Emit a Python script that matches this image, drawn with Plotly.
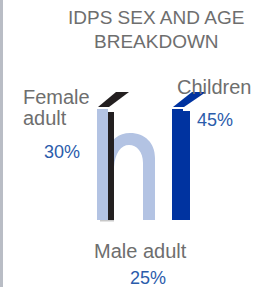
import plotly.graph_objects as go

# ---- data ----
title_lines = ["IDPS SEX AND AGE", "BREAKDOWN"]
categories = ["Female adult", "Children", "Male adult"]
values = [30, 45, 25]

# ---- style ----
W, H = 276, 287
GRAY_TXT = "#6e6e6e"
BLUE_TXT = "#2b5cab"
LIGHT = "#b3c3e3"
DARK = "#0033a0"
BLACK = "#231f20"
FONT = "Liberation Sans, Arial, sans-serif"

fig = go.Figure()
fig.add_trace(go.Scatter(x=[0, W], y=[0, H], mode="markers",
                         marker=dict(opacity=0), hoverinfo="skip", showlegend=False))

shapes = []
# left gray strip
shapes.append(dict(type="rect", x0=0, x1=3, y0=0, y1=H, line=dict(width=0), fillcolor="#b9bdc5", layer="below"))
# light blue arch of "h"
shapes.append(dict(type="path",
                   path="M 106,152 C 110,140 119,133 130,133 C 145,133 155,143 155,158 L 155,220 L 143,220 "
                        "L 143,163 C 143,152 137,145 129,145 C 121,145 115,153 114,167 Z",
                   line=dict(width=0), fillcolor=LIGHT))
# light blue left stem
shapes.append(dict(type="rect", x0=97, x1=108, y0=109, y1=220, line=dict(width=0), fillcolor=LIGHT))
# black stem
shapes.append(dict(type="rect", x0=108, x1=114, y0=112, y1=220, line=dict(width=0), fillcolor=BLACK))
# black cap
shapes.append(dict(type="path", path="M 98,107 L 109,107 L 129,92 L 116,92 Z", line=dict(width=0), fillcolor=BLACK))
# thin shadow under left stem
shapes.append(dict(type="rect", x0=100, x1=114, y0=220, y1=221.5, line=dict(width=0), fillcolor="#c8c8c8"))
# dark blue bar
shapes.append(dict(type="path", path="M 172,109 L 183,109 L 183,111 L 190,111 L 190,220 L 172,220 Z",
                   line=dict(width=0), fillcolor=DARK))
# dark blue cap
shapes.append(dict(type="path", path="M 173,107 L 184,107 L 206,92 L 192,92 Z", line=dict(width=0), fillcolor=DARK))

ann = []
def txt(t, x, y, size, color, xanchor="center", height=None):
    d = dict(text=t, x=x, y=y, xref="x", yref="y", showarrow=False,
             xanchor=xanchor, yanchor="middle",
             font=dict(family=FONT, size=size, color=color))
    if height:
        d["height"] = height
    ann.append(d)

txt(title_lines[0], 155.5, 17, 19, GRAY_TXT)
txt(title_lines[1], 156, 41, 19, GRAY_TXT)

fem_words = categories[0].split(" ")
txt(fem_words[0], 21, 97, 20, GRAY_TXT, "left", height=20)
txt(fem_words[1], 21, 118, 20, GRAY_TXT, "left", height=20)
txt(f"{values[0]}%", 62, 151.5, 18, BLUE_TXT)

txt(categories[1], 175, 87, 20, GRAY_TXT, "left")
txt(f"{values[1]}%", 214.5, 119.5, 18, BLUE_TXT)

txt(categories[2], 140.5, 251, 20, GRAY_TXT)
txt(f"{values[2]}%", 148, 277.5, 18, BLUE_TXT)

fig.update_layout(
    width=W, height=H, margin=dict(l=0, r=0, t=0, b=0),
    paper_bgcolor="white", plot_bgcolor="white",
    xaxis=dict(range=[0, W], visible=False, fixedrange=True),
    yaxis=dict(range=[H, 0], visible=False, fixedrange=True),
    shapes=shapes, annotations=ann, showlegend=False,
)
fig.write_html("out.html", config={"displayModeBar": False},
               post_script="document.body.style.margin='0';document.body.style.overflow='hidden';")
